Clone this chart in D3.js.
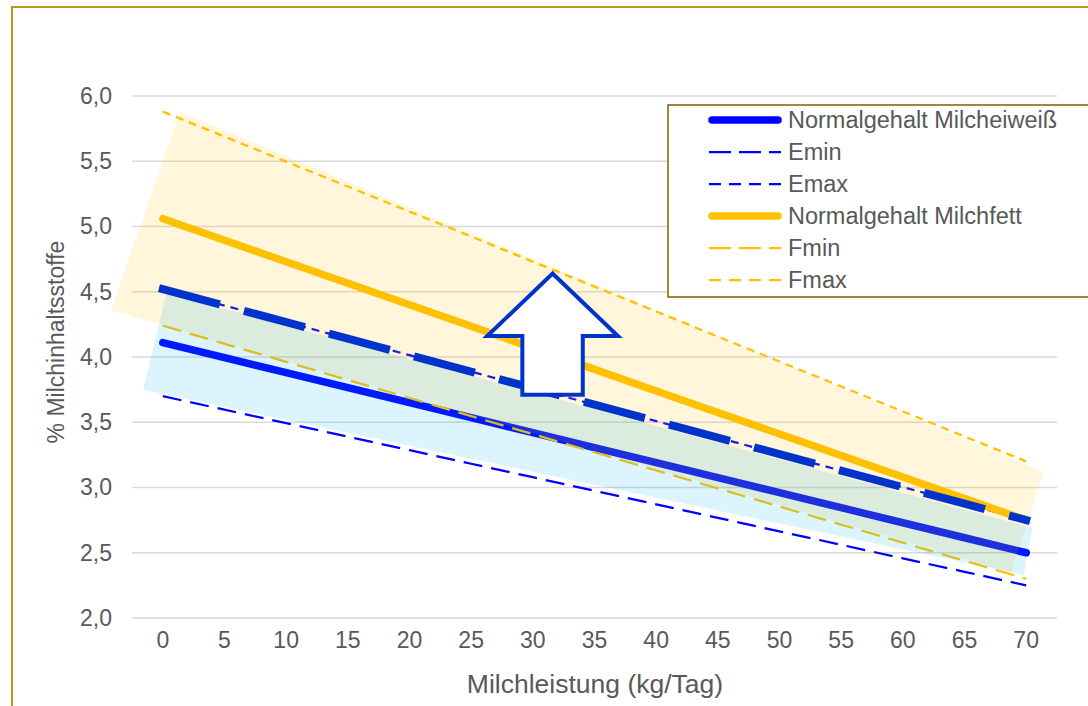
<!DOCTYPE html>
<html>
<head>
<meta charset="utf-8">
<script src="https://cdn.jsdelivr.net/npm/d3@7"></script>
<style>
  body { margin: 0; background: #fff; }
  svg { display: block; font-family: "Liberation Sans", Arial, sans-serif; }
</style>
</head>
<body>
<svg id="chart" width="1088" height="706"></svg>
<script>
// Milchleistung (kg/Tag)
const categories = [0, 5, 10, 15, 20, 25, 30, 35, 40, 45, 50, 55, 60, 65, 70];
const yTicks = [2.0, 2.5, 3.0, 3.5, 4.0, 4.5, 5.0, 5.5, 6.0];

// % Milchinhaltsstoffe
const eiweiss = [4.110, 3.995, 3.880, 3.765, 3.650, 3.535, 3.420, 3.305, 3.190, 3.075, 2.960, 2.845, 2.730, 2.615, 2.500];
const eMin    = [3.700, 3.596, 3.493, 3.389, 3.286, 3.182, 3.079, 2.975, 2.871, 2.768, 2.664, 2.561, 2.457, 2.354, 2.250];
const eMax    = [4.520, 4.394, 4.267, 4.141, 4.014, 3.888, 3.761, 3.635, 3.509, 3.382, 3.256, 3.129, 3.003, 2.876, 2.750];
const fett    = [5.060, 4.895, 4.730, 4.565, 4.400, 4.235, 4.070, 3.905, 3.740, 3.575, 3.410, 3.245, 3.080, 2.915, 2.750];
const fMin    = [4.240, 4.101, 3.963, 3.824, 3.686, 3.547, 3.409, 3.270, 3.131, 2.993, 2.854, 2.716, 2.577, 2.439, 2.300];
const fMax    = [5.880, 5.689, 5.497, 5.306, 5.114, 4.923, 4.731, 4.540, 4.349, 4.157, 3.966, 3.774, 3.583, 3.391, 3.200];

// hand-drawn shaded bands (corners in kg/Tag, %)
const fettBand    = [[1.4, 5.88], [71.4, 3.12], [68.8, 2.35], [-4.2, 4.36]];
const eiweissBand = [[0.3, 4.49], [70.5, 2.69], [69.8, 2.33], [-1.6, 3.75]];

// arrow annotation (kg/Tag, %)
const arrowTip = [31.6, 4.64];
const arrowHeadBase = 4.16, arrowBottom = 3.71, arrowHeadHalf = 5.3, arrowShaftHalf = 2.45;

const series = [
  { name: "Normalgehalt Milcheiweiß", values: eiweiss, color: "#0000FF", width: 7.5, dash: null },
  { name: "Emin", values: eMin, color: "#0000FF", width: 2.25, dash: "19,9" },
  { name: "Emax", values: eMax, color: "#0000FF", width: 2.25, dash: "8,6" },
  { name: "Normalgehalt Milchfett", values: fett, color: "#FFC000", width: 7.5, dash: null },
  { name: "Fmin", values: fMin, color: "#FFC000", width: 2.25, dash: "19,9" },
  { name: "Fmax", values: fMax, color: "#FFC000", width: 2.25, dash: "8,6" }
];

const svg = d3.select("#chart");
const textColor = "#595959";

// outer frame
svg.append("rect")
  .attr("x", 12).attr("y", 7)
  .attr("width", 1200).attr("height", 800)
  .attr("fill", "none")
  .attr("stroke", "#C39320")
  .attr("stroke-width", 2);

// scales
const plot = { left: 132, right: 1057, top: 96, bottom: 618 };
const x = d3.scaleBand()
  .domain(categories)
  .range([plot.left, plot.right])
  .padding(0);
const xPos = d => x(d) + x.bandwidth() / 2;
const xLin = d3.scaleLinear()
  .domain([categories[0], categories[categories.length - 1]])
  .range([xPos(categories[0]), xPos(categories[categories.length - 1])]);
const y = d3.scaleLinear().domain([2, 6]).range([plot.bottom, plot.top]);
const fmt = d => d3.format(".1f")(d).replace(".", ",");

// gridlines
svg.append("g")
  .selectAll("line")
  .data(yTicks)
  .join("line")
  .attr("x1", plot.left).attr("x2", plot.right)
  .attr("y1", d => y(d)).attr("y2", d => y(d))
  .attr("stroke", "#D9D9D9")
  .attr("stroke-width", 1.5);

// axes
const yAxis = d3.axisLeft(y).tickValues(yTicks).tickFormat(fmt).tickSize(0).tickPadding(20);
svg.append("g")
  .attr("transform", `translate(${plot.left},0)`)
  .call(yAxis)
  .call(g => g.select(".domain").remove())
  .selectAll("text")
  .attr("fill", textColor)
  .style("font-size", "23px");

const xAxis = d3.axisBottom(x).tickSize(0).tickPadding(14);
svg.append("g")
  .attr("transform", `translate(0,${plot.bottom})`)
  .call(xAxis)
  .call(g => g.select(".domain").remove())
  .selectAll("text")
  .attr("fill", textColor)
  .style("font-size", "23px");

svg.append("text")
  .attr("x", 595)
  .attr("y", 693)
  .attr("text-anchor", "middle")
  .attr("fill", textColor)
  .style("font-size", "26.5px")
  .text("Milchleistung (kg/Tag)");

svg.append("text")
  .attr("transform", `translate(64,342) rotate(-90)`)
  .attr("text-anchor", "middle")
  .attr("fill", textColor)
  .style("font-size", "23px")
  .text("% Milchinhaltsstoffe");

// series lines
const line = d3.line()
  .x((d, i) => xPos(categories[i]))
  .y(d => y(d));

svg.append("g")
  .selectAll("path")
  .data(series)
  .join("path")
  .attr("d", d => line(d.values))
  .attr("fill", "none")
  .attr("stroke", d => d.color)
  .attr("stroke-width", d => d.width)
  .attr("stroke-dasharray", d => d.dash)
  .attr("stroke-linecap", d => d.dash ? "butt" : "round");

// shaded bands on top (semi transparent)
const poly = d3.line().x(d => xLin(d[0])).y(d => y(d[1])).curve(d3.curveLinearClosed);
svg.append("path")
  .attr("d", poly(fettBand))
  .attr("fill", "#FFC000")
  .attr("fill-opacity", 0.14);
svg.append("path")
  .attr("d", poly(eiweissBand))
  .attr("fill", "#00B0F0")
  .attr("fill-opacity", 0.14);

// thick dashed overlay along Emax
svg.append("path")
  .attr("d", line(eMax))
  .attr("fill", "none")
  .attr("stroke", "#0033CC")
  .attr("stroke-width", 8)
  .attr("stroke-dasharray", "55,33")
  .attr("stroke-linecap", "square");

// block arrow
const arrowPts = [
  [arrowTip[0], arrowTip[1]],
  [arrowTip[0] + arrowHeadHalf, arrowHeadBase],
  [arrowTip[0] + arrowShaftHalf, arrowHeadBase],
  [arrowTip[0] + arrowShaftHalf, arrowBottom],
  [arrowTip[0] - arrowShaftHalf, arrowBottom],
  [arrowTip[0] - arrowShaftHalf, arrowHeadBase],
  [arrowTip[0] - arrowHeadHalf, arrowHeadBase]
];
svg.append("path")
  .attr("d", poly(arrowPts))
  .attr("fill", "#fff")
  .attr("stroke", "#0033CC")
  .attr("stroke-width", 4)
  .attr("stroke-linejoin", "miter");

// legend
const legend = svg.append("g").attr("transform", "translate(668,105)");
legend.append("rect")
  .attr("width", 440).attr("height", 192)
  .attr("fill", "#fff")
  .attr("stroke", "#7F6000")
  .attr("stroke-width", 1.5);
const items = legend.selectAll("g.item")
  .data(series)
  .join("g")
  .attr("class", "item")
  .attr("transform", (d, i) => `translate(0,${15 + i * 32})`);
items.append("line")
  .attr("x1", d => d.dash ? 41 : 44).attr("x2", d => d.dash ? 113 : 110)
  .attr("stroke", d => d.color)
  .attr("stroke-width", d => d.width)
  .attr("stroke-dasharray", d => d.dash ? (d.name.endsWith("min") ? "22,8" : "12,8") : null)
  .attr("stroke-linecap", d => d.dash ? "butt" : "round");
items.append("text")
  .attr("x", 120)
  .attr("dy", "0.35em")
  .attr("fill", textColor)
  .style("font-size", "23.5px")
  .text(d => d.name);
</script>
</body>
</html>
